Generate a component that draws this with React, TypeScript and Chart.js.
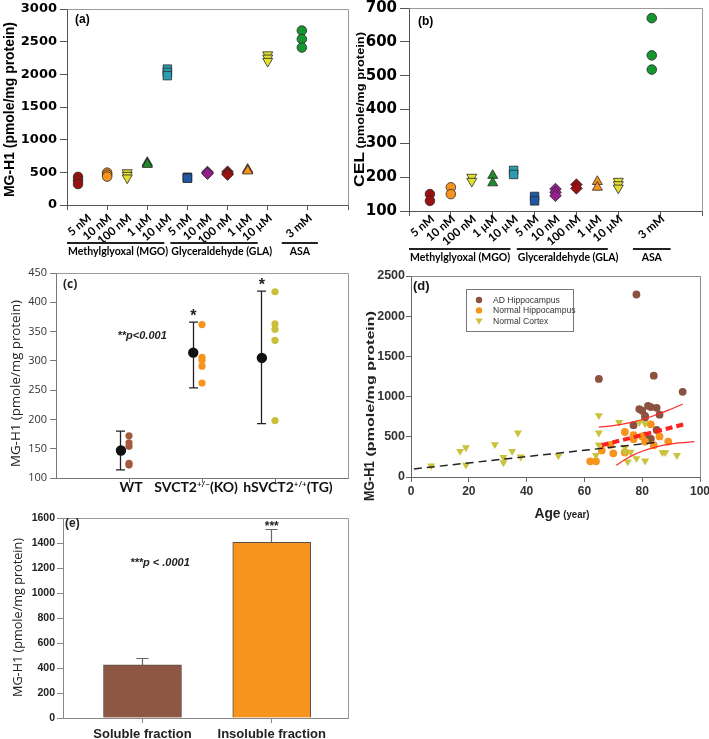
import React, { useEffect, useRef } from 'react';
import { Chart, registerables } from 'chart.js';

Chart.register(...registerables);

const PAGE_W = 709;
const PAGE_H = 739;

// ---------------- data: panels (a) and (b) ----------------
const treatmentLabels = ['5 nM', '10 nM', '100 nM', '1 µM', '10 µM', '5 nM', '10 nM', '100 nM', '1 µM', '10 µM', '3 mM'];
const treatmentLabelX = [1, 2, 3, 4, 5, 6, 7, 8, 9, 10, 12];
const groupNames = ['Methylglyoxal (MGO)', 'Glyceraldehyde (GLA)', 'ASA'];
const groupStart = [0, 5.15, 10.7];
const groupEnd = [4.85, 9.5, 12.5];

const mgh1X = [0.55, 2, 3, 4, 5, 6, 7, 8, 9, 10, 11.7];
const mgh1Values = [
  [430, 375, 320],
  [495, 465, 435],
  [495, 455, 415],
  [650, 635, 620],
  [2080, 2030, 1980],
  [425, 415, 410],
  [505, 490, 480],
  [510, 485, 465],
  [545, 530, 520],
  [2300, 2250, 2200],
  [2670, 2540, 2410],
];
const celX = [1, 2, 3, 4, 5, 6, 7, 8, 9, 10, 11.6];
const celValues = [
  [150, 130],
  [170, 150],
  [200, 188],
  [205, 183],
  [220, 208],
  [143, 130],
  [165, 155, 145],
  [178, 167],
  [187, 170],
  [188, 178, 168],
  [670, 560, 518],
];

// ---------------- data: panel (c) ----------------
const mouseGroups = ['WT', 'SVCT2^{+/−}(KO)', 'hSVCT2^{+/+}(TG)'];
const wtValues = [172, 160, 154, 125, 122];
const koValues = [362, 306, 301, 291, 262];
const tgValues = [418, 363, 354, 335, 198];
const mouseMeanX = [0.89, 1.88, 2.82];
const mouseMeans = [147, 314, 305];
const mouseErrLow = [114, 254, 193];
const mouseErrHigh = [180, 366, 419];
const mouseSignificant = [false, true, true];
const mouseNote = '**p<0.001';
const mouseNoteAt = [1.18, 345];

// ---------------- data: panel (d) ----------------
const seriesNames = ['AD Hippocampus', 'Normal Hippocampus', 'Normal Cortex'];
const adHippocampus = [
  [65, 1220], [78, 2270], [84, 1260], [94, 1060], [79, 845], [80, 825], [82, 885], [83, 870],
  [85, 860], [81, 760], [81, 740], [86, 775], [77, 645], [85, 585], [81, 515], [83, 475],
];
const normalHippocampus = [
  [62, 195], [64, 195], [66, 330], [69, 400], [70, 295], [74, 560], [74, 305], [77, 520],
  [77, 470], [80, 505], [81, 440], [83, 655], [84, 395], [86, 505], [89, 440],
];
const normalCortex = [
  [7, 140], [17, 320], [19, 365], [19, 150], [29, 405], [32, 245], [32, 180], [35, 320],
  [37, 550], [38, 250], [51, 265], [64, 270], [65, 765], [65, 550], [65, 400], [72, 680],
  [74, 370], [74, 315], [75, 190], [76, 310], [78, 230], [79, 680], [81, 665], [81, 200],
  [87, 305], [88, 305], [92, 270],
];
const cortexFit = [[1, 100], [86, 435]];
const hippoFit = [[66, 395], [95, 660]];
const hippoUpper = [[65, 620], [70, 640], [75, 670], [80, 715], [85, 775], [90, 845], [94, 905]];
const hippoLower = [[71, 145], [74, 215], [77, 275], [80, 320], [84, 365], [88, 400], [93, 425], [98, 440]];

// ---------------- data: panel (e) ----------------
const fractions = ['Soluble fraction', 'Insoluble fraction'];
const fractionMeans = [425, 1405];
const fractionErr = [55, 105];
const fractionNote = '***p < .0001';
const fractionNoteAt = [1.135, 1250];

// ---------------- styles ----------------
const ARIAL = '"Liberation Sans", Arial, sans-serif';
const DEJAVU = '"DejaVu Sans", sans-serif';
const OPEN = '"Open Sans", sans-serif';
const LATO = 'Lato, sans-serif';

const markerShape = ['circle', 'circle', 'triangle', 'triangle', 'rect', 'rect', 'rectRot', 'rectRot', 'triangle', 'triangle', 'circle'];
const markerRotation = [0, 0, 180, 0, 0, 0, 0, 0, 0, 180, 0];
const markerRadius = [4.8, 4.8, 5.8, 5.8, 6, 6, 5.8, 5.8, 5.8, 5.8, 4.8];
const markerColor = ['#9B1010', '#F7931E', '#E3DF2E', '#1E8C2A', '#2C9DB0', '#1D5AA6', '#94208E', '#9B1010', '#F7931E', '#E3DF2E', '#16962E'];

const RECT_A = { l: 67, t: 9, r: 348, b: 205 };
const RECT_B = { l: 409, t: 8, r: 702, b: 211 };
const RECT_C = { l: 56, t: 273, r: 348, b: 478 };
const RECT_D = { l: 411, t: 276, r: 700, b: 477 };
const RECT_E = { l: 63, t: 518, r: 348, b: 718 };

// ---------------- helpers ----------------
type Seg = { t: string; font: string; dy?: number; w?: number };

function drawSegs(ctx: CanvasRenderingContext2D, segs: Seg[], x: number, y: number, o: any = {}) {
  ctx.save();
  ctx.translate(x, y);
  if (o.rot) ctx.rotate(o.rot);
  const natural = segs.map((s) => { ctx.font = s.font; return ctx.measureText(s.t).width; });
  const widths = segs.map((s, i) => s.w || natural[i]);
  const total = widths.reduce((a, b) => a + b, 0);
  const sx = o.len ? o.len / total : 1;
  ctx.scale(sx, 1);
  let cx = o.align === 'left' ? 0 : o.align === 'right' ? -total : -total / 2;
  ctx.fillStyle = o.color || '#000';
  ctx.textBaseline = 'alphabetic';
  ctx.textAlign = 'left';
  segs.forEach((s, i) => {
    ctx.font = s.font;
    ctx.save();
    ctx.translate(cx, s.dy || 0);
    ctx.scale(widths[i] / natural[i], 1);
    ctx.fillText(s.t, 0, 0);
    ctx.restore();
    cx += widths[i];
  });
  ctx.restore();
}

function richSegs(label: string, font: string, supFont: string, supDy: number): Seg[] {
  const out: Seg[] = [];
  const re = /\^\{([^}]*)\}/g;
  let last = 0;
  let m: RegExpExecArray | null;
  while ((m = re.exec(label))) {
    if (m.index > last) out.push({ t: label.slice(last, m.index), font });
    out.push({ t: m[1], font: supFont, dy: supDy });
    last = re.lastIndex;
  }
  if (last < label.length) out.push({ t: label.slice(last), font });
  return out;
}

const al = (v: number) => Math.round(v - 0.5) + 0.5;

function drawFrame(ctx: CanvasRenderingContext2D, ca: any, color: string) {
  ctx.save();
  ctx.strokeStyle = color;
  ctx.lineWidth = 1;
  ctx.beginPath();
  ctx.moveTo(al(ca.left), al(ca.top));
  ctx.lineTo(al(ca.right), al(ca.top));
  ctx.lineTo(al(ca.right), al(ca.bottom));
  ctx.stroke();
  ctx.restore();
}

const zeroPad = (s: any) => { s.paddingLeft = 0; s.paddingRight = 0; s.paddingTop = 0; s.paddingBottom = 0; };
const plainNumber = (v: any) => String(v);

function yScale(min: number, max: number, step: number, font: any, color: string, tickLen: number, pad: number, width: number, axisColor: string) {
  return {
    type: 'linear', min, max,
    ticks: { stepSize: step, font, color, padding: pad, callback: plainNumber },
    grid: { drawOnChartArea: false, drawTicks: true, tickLength: tickLen, color: axisColor, tickColor: axisColor },
    border: { display: true, color: axisColor, width: 1 },
    afterFit: (s: any) => { s.width = width; zeroPad(s); },
  };
}

function xScale(min: number, max: number, step: number, height: number, axisColor: string, tickLen: number, extra: any = {}) {
  return {
    type: 'linear', min, max, offset: false,
    ticks: Object.assign({ stepSize: step, display: false, callback: plainNumber }, extra.ticks || {}),
    grid: { drawOnChartArea: false, drawTicks: true, tickLength: tickLen, color: axisColor, tickColor: axisColor, offset: false },
    border: { display: true, color: axisColor, width: 1 },
    afterBuildTicks: extra.tickValues ? (s: any) => { s.ticks = extra.tickValues.map((v: number) => ({ value: v })); } : undefined,
    afterFit: (s: any) => { s.height = height; zeroPad(s); },
  };
}

function baseOptions(rect: any, yW: number, xH: number, scales: any) {
  return {
    responsive: false,
    maintainAspectRatio: false,
    animation: false,
    devicePixelRatio: 1,
    events: [],
    layout: { padding: { left: rect.l - yW, top: rect.t, right: PAGE_W - rect.r, bottom: PAGE_H - rect.b - xH } },
    plugins: { legend: { display: false }, tooltip: { enabled: false } },
    scales,
  };
}

// ---------------- panels (a) / (b) ----------------
function makeTreatment(canvas: HTMLCanvasElement, p: any) {
  const datasets = p.values.map((vals: number[], i: number) => ({
    data: vals.map((v) => ({ x: p.xs[i], y: v })),
    pointStyle: markerShape[i],
    pointRotation: markerRotation[i],
    pointRadius: markerRadius[i],
    pointBackgroundColor: markerColor[i],
    backgroundColor: markerColor[i],
    pointBorderColor: '#2a2a2a',
    borderColor: '#2a2a2a',
    pointBorderWidth: 0.8,
  }));
  const plugin = {
    id: 'treat' + p.letter,
    beforeDatasetsDraw(chart: any) { drawFrame(chart.ctx, chart.chartArea, '#9a9a9a'); },
    afterDraw(chart: any) {
      const ctx = chart.ctx as CanvasRenderingContext2D;
      const ca = chart.chartArea;
      const x = chart.scales.x;
      ctx.save();
      ctx.fillStyle = '#000';
      treatmentLabels.forEach((lab, i) => {
        const px = x.getPixelForValue(treatmentLabelX[i]);
        ctx.save();
        ctx.translate(px - 1, ca.bottom + p.labelDy);
        ctx.rotate(-40 * Math.PI / 180);
        ctx.font = `bold 11.5px ${LATO}`;
        ctx.textAlign = 'right';
        ctx.textBaseline = 'top';
        ctx.fillText(lab, 0, 0);
        ctx.restore();
      });
      groupNames.forEach((g, i) => {
        const x0 = x.getPixelForValue(groupStart[i]);
        const x1 = x.getPixelForValue(groupEnd[i]);
        ctx.fillStyle = '#222';
        ctx.fillRect(x0, ca.bottom + 37, x1 - x0, 2);
        ctx.fillStyle = '#000';
        ctx.font = `bold 10.5px ${LATO}`;
        ctx.textBaseline = 'alphabetic';
        if (i < 2) { ctx.textAlign = 'left'; ctx.fillText(g, x0 + 1, ca.bottom + 50); }
        else { ctx.textAlign = 'center'; ctx.fillText(g, (x0 + x1) / 2, ca.bottom + 50); }
      });
      ctx.font = `bold 12px ${ARIAL}`;
      ctx.textAlign = 'left';
      ctx.textBaseline = 'middle';
      ctx.fillText(p.letter, ca.left + p.letterDx, ca.top + p.letterDy);
      drawSegs(ctx, p.title, p.titleX, p.titleY, { rot: -Math.PI / 2, len: p.titleLen });
      ctx.restore();
    },
  };
  return new Chart(canvas, {
    type: 'scatter',
    data: { datasets },
    options: baseOptions(p.rect, p.yW, 30, {
      x: xScale(0, 14, 2, 30, '#555', 5),
      y: yScale(p.yMin, p.yMax, p.yStep, { family: DEJAVU, size: p.tickSize, weight: 'bold' }, '#000', p.tickLen, 3, p.yW, '#555'),
    }) as any,
    plugins: [plugin],
  } as any);
}

function makeA(canvas: HTMLCanvasElement) {
  return makeTreatment(canvas, {
    rect: RECT_A, values: mgh1Values, xs: mgh1X, yMin: 0, yMax: 3000, yStep: 500, tickSize: 13, tickLen: 7, yW: 62,
    letter: '(a)', letterDx: 8, letterDy: 11, labelDy: 7,
    title: [{ t: 'MG-H1 (pmole/mg protein)', font: `bold 14px ${ARIAL}` }], titleX: 14, titleY: 109.5, titleLen: 175,
  });
}

function makeB(canvas: HTMLCanvasElement) {
  return makeTreatment(canvas, {
    rect: RECT_B, values: celValues, xs: celX, yMin: 100, yMax: 700, yStep: 100, tickSize: 15, tickLen: 9, yW: 55,
    letter: '(b)', letterDx: 9, letterDy: 14, labelDy: 2,
    title: [{ t: 'CEL', font: `bold 15px ${ARIAL}` }, { t: ' (pmole/mg protein)', font: `bold 11px ${ARIAL}` }],
    titleX: 364, titleY: 109.5, titleLen: 155,
  });
}

// ---------------- panel (c) ----------------
function makeC(canvas: HTMLCanvasElement) {
  const groups = [wtValues, koValues, tgValues];
  const colors = ['#A35A3C', '#F7941D', '#C9BF3C'];
  const datasets: any[] = groups.map((vals, i) => ({
    data: vals.map((v) => ({ x: i + 1, y: v })),
    pointRadius: 3.6,
    pointBackgroundColor: colors[i],
    pointBorderWidth: 0,
    backgroundColor: colors[i],
    borderColor: colors[i],
  }));
  datasets.push({
    data: mouseMeans.map((m, i) => ({ x: mouseMeanX[i], y: m })),
    pointRadius: 5.2,
    pointBackgroundColor: '#111',
    pointBorderWidth: 0,
    backgroundColor: '#111',
    borderColor: '#111',
  });
  const labelShift = [2, -6, 13];
  const plugin = {
    id: 'panelC',
    beforeDatasetsDraw(chart: any) {
      const ctx = chart.ctx as CanvasRenderingContext2D;
      const { x, y } = chart.scales;
      drawFrame(ctx, chart.chartArea, '#999');
      ctx.save();
      ctx.strokeStyle = '#222';
      ctx.lineWidth = 1.3;
      mouseMeans.forEach((m, i) => {
        const px = al(x.getPixelForValue(mouseMeanX[i]));
        const lo = y.getPixelForValue(mouseErrLow[i]);
        const hi = y.getPixelForValue(mouseErrHigh[i]);
        ctx.beginPath();
        ctx.moveTo(px, lo); ctx.lineTo(px, hi);
        ctx.moveTo(px - 4.5, lo); ctx.lineTo(px + 4.5, lo);
        ctx.moveTo(px - 4.5, hi); ctx.lineTo(px + 4.5, hi);
        ctx.stroke();
      });
      ctx.restore();
    },
    afterDraw(chart: any) {
      const ctx = chart.ctx as CanvasRenderingContext2D;
      const ca = chart.chartArea;
      const { x, y } = chart.scales;
      ctx.save();
      ctx.fillStyle = '#222';
      ctx.textAlign = 'center';
      ctx.textBaseline = 'alphabetic';
      ctx.font = `bold 16px ${ARIAL}`;
      mouseSignificant.forEach((s, i) => {
        if (!s) return;
        ctx.fillText('*', x.getPixelForValue(mouseMeanX[i]), y.getPixelForValue(mouseErrHigh[i]) - 1);
      });
      ctx.font = `italic bold 11px ${ARIAL}`;
      ctx.fillText(mouseNote, x.getPixelForValue(mouseNoteAt[0]), y.getPixelForValue(mouseNoteAt[1]) + 4);
      ctx.font = `bold 12px ${OPEN}`;
      ctx.textAlign = 'left';
      ctx.textBaseline = 'middle';
      ctx.fillText('(c)', ca.left + 7, ca.top + 12);
      mouseGroups.forEach((lab, i) => {
        drawSegs(ctx, richSegs(lab, `bold 14px ${LATO}`, `bold 8px ${LATO}`, -5),
          x.getPixelForValue(i + 1) + labelShift[i], ca.bottom + 14, { align: 'center', color: '#111' });
      });
      drawSegs(ctx, [{ t: 'MG-H1 (pmole/mg protein)', font: `13px ${OPEN}` }], 20, 383.5,
        { rot: -Math.PI / 2, len: 167, color: '#222' });
      ctx.restore();
    },
  };
  return new Chart(canvas, {
    type: 'scatter',
    data: { datasets },
    options: baseOptions(RECT_C, 50, 30, {
      x: xScale(0, 4, 1, 30, '#777', 5, { tickValues: [1, 2, 3] }),
      y: yScale(100, 450, 50, { family: OPEN, size: 11 }, '#333', 6, 3, 50, '#777'),
    }) as any,
    plugins: [plugin],
  } as any);
}

// ---------------- panel (d) ----------------
function makeD(canvas: HTMLCanvasElement) {
  const colors = ['#8C5240', '#F7941D', '#C9C23A'];
  const toXY = (arr: number[][]) => arr.map((p) => ({ x: p[0], y: p[1] }));
  const lineDs = (arr: number[][], color: string, width: number, dash: number[], tension: number) => ({
    data: toXY(arr), showLine: true, pointRadius: 0, borderColor: color, borderWidth: width,
    borderDash: dash, tension, fill: false, order: 0,
  });
  const datasets: any[] = [
    lineDs(cortexFit, '#222', 1.5, [8, 5], 0),
    lineDs(hippoFit, '#FF2020', 4, [7, 4], 0),
    lineDs(hippoUpper, '#FF2A2A', 1.2, [], 0.4),
    lineDs(hippoLower, '#FF2A2A', 1.2, [], 0.4),
    { data: toXY(adHippocampus), pointRadius: 3.9, pointBackgroundColor: colors[0], backgroundColor: colors[0], borderColor: colors[0], pointBorderWidth: 0, order: 3 },
    { data: toXY(normalHippocampus), pointRadius: 3.9, pointBackgroundColor: colors[1], backgroundColor: colors[1], borderColor: colors[1], pointBorderWidth: 0, order: 2 },
    { data: toXY(normalCortex), pointStyle: 'triangle', pointRotation: 180, pointRadius: 4.6, pointBackgroundColor: colors[2], backgroundColor: colors[2], borderColor: colors[2], pointBorderWidth: 0, order: 1 },
  ];
  const plugin = {
    id: 'panelD',
    beforeDatasetsDraw(chart: any) { drawFrame(chart.ctx, chart.chartArea, '#8a8a8a'); },
    afterDraw(chart: any) {
      const ctx = chart.ctx as CanvasRenderingContext2D;
      const ca = chart.chartArea;
      ctx.save();
      // legend
      const lx = ca.left + 55, ly = ca.top + 13, lw = 107, lh = 42;
      ctx.fillStyle = '#fff';
      ctx.fillRect(lx, ly, lw, lh);
      ctx.strokeStyle = '#777';
      ctx.lineWidth = 1;
      ctx.strokeRect(al(lx), al(ly), lw, lh);
      seriesNames.forEach((name, i) => {
        const ry = ly + 11 + i * 10.4;
        const mx = lx + 13;
        ctx.fillStyle = colors[i];
        ctx.beginPath();
        if (i < 2) ctx.arc(mx, ry, 3.2, 0, Math.PI * 2);
        else { ctx.moveTo(mx - 3.6, ry - 2.2); ctx.lineTo(mx + 3.6, ry - 2.2); ctx.lineTo(mx, ry + 3.6); ctx.closePath(); }
        ctx.fill();
        ctx.fillStyle = '#333';
        ctx.font = `8.6px ${ARIAL}`;
        ctx.textAlign = 'left';
        ctx.textBaseline = 'middle';
        ctx.fillText(name, lx + 27, ry + 0.5);
      });
      ctx.fillStyle = '#111';
      ctx.font = `bold 13px ${ARIAL}`;
      ctx.textAlign = 'left';
      ctx.textBaseline = 'middle';
      ctx.fillText('(d)', ca.left + 2, ca.top + 10);
      drawSegs(ctx, [
        { t: 'MG-H1', font: `bold 14px ${ARIAL}`, w: 40 },
        { t: ' (pmole/mg protein)', font: `bold 11px ${ARIAL}`, w: 150 },
      ], 374, 406, { rot: -Math.PI / 2, color: '#222' });
      drawSegs(ctx, [{ t: 'Age', font: `bold 15px ${ARIAL}` }, { t: ' (year)', font: `bold 10.5px ${ARIAL}` }],
        562, 518, { len: 55, color: '#222' });
      ctx.restore();
    },
  };
  return new Chart(canvas, {
    type: 'scatter',
    data: { datasets },
    options: baseOptions(RECT_D, 50, 30, {
      x: xScale(0, 100, 20, 30, '#666', 5, { ticks: { display: true, font: { family: ARIAL, size: 12, weight: 'bold' }, color: '#333', padding: 2 } }),
      y: yScale(0, 2500, 500, { family: ARIAL, size: 12.5, weight: 'bold' }, '#333', 5, 1, 50, '#666'),
    }) as any,
    plugins: [plugin],
  } as any);
}

// ---------------- panel (e) ----------------
function makeE(canvas: HTMLCanvasElement) {
  const plugin = {
    id: 'panelE',
    beforeDatasetsDraw(chart: any) { drawFrame(chart.ctx, chart.chartArea, '#999'); },
    afterDatasetsDraw(chart: any) {
      const ctx = chart.ctx as CanvasRenderingContext2D;
      const { x, y } = chart.scales;
      ctx.save();
      ctx.strokeStyle = '#666';
      ctx.lineWidth = 1.2;
      fractionMeans.forEach((m, i) => {
        const px = al(x.getPixelForValue(i + 1));
        const top = y.getPixelForValue(m);
        const cap = y.getPixelForValue(m + fractionErr[i]);
        ctx.beginPath();
        ctx.moveTo(px, top); ctx.lineTo(px, cap);
        ctx.moveTo(px - 6, al(cap)); ctx.lineTo(px + 6, al(cap));
        ctx.stroke();
      });
      ctx.restore();
    },
    afterDraw(chart: any) {
      const ctx = chart.ctx as CanvasRenderingContext2D;
      const ca = chart.chartArea;
      const { x, y } = chart.scales;
      ctx.save();
      ctx.fillStyle = '#222';
      ctx.textAlign = 'center';
      ctx.textBaseline = 'alphabetic';
      ctx.font = `bold 12px ${ARIAL}`;
      ctx.fillText('***', x.getPixelForValue(2), y.getPixelForValue(fractionMeans[1] + fractionErr[1]) + 1);
      ctx.font = `italic bold 11px ${ARIAL}`;
      ctx.fillText(fractionNote, x.getPixelForValue(fractionNoteAt[0]), y.getPixelForValue(fractionNoteAt[1]) + 4);
      ctx.font = `bold 12px ${ARIAL}`;
      ctx.textAlign = 'left';
      ctx.textBaseline = 'middle';
      ctx.fillText('(e)', ca.left + 2, ca.top + 6);
      drawSegs(ctx, [{ t: 'MG-H1 (pmole/mg protein)', font: `13px ${OPEN}` }], 22, 617.5,
        { rot: -Math.PI / 2, len: 159, color: '#222' });
      ctx.restore();
    },
  };
  return new Chart(canvas, {
    type: 'bar',
    data: {
      datasets: [{
        data: fractionMeans.map((v, i) => ({ x: i + 1, y: v })),
        backgroundColor: ['#8E5744', '#F7941D'],
        borderColor: '#5b5048',
        borderWidth: 1,
        barThickness: 78,
      }],
    },
    options: baseOptions(RECT_E, 50, 20, {
      x: xScale(0.385, 2.59, 1, 20, '#888', 5, {
        tickValues: [1, 2],
        ticks: { display: true, font: { family: ARIAL, size: 13, weight: 'bold' }, color: '#222', padding: 4, callback: (v: number) => fractions[v - 1] || '' },
      }),
      y: yScale(0, 1600, 200, { family: ARIAL, size: 10.5, weight: 'bold' }, '#222', 6, 2, 50, '#888'),
    }) as any,
    plugins: [plugin],
  } as any);
}

// ---------------- components ----------------
function ChartCanvas({ make }: { make: (c: HTMLCanvasElement) => Chart }) {
  const ref = useRef<HTMLCanvasElement>(null);
  useEffect(() => {
    const chart = make(ref.current as HTMLCanvasElement);
    return () => chart.destroy();
  }, []);
  return (
    <canvas
      ref={ref}
      width={PAGE_W}
      height={PAGE_H}
      style={{ position: 'absolute', left: 0, top: 0, width: PAGE_W, height: PAGE_H, pointerEvents: 'none' }}
    />
  );
}

export default function App() {
  return (
    <div style={{ position: 'fixed', left: 0, top: 0, width: PAGE_W, height: PAGE_H, background: '#fff', overflow: 'hidden' }}>
      <ChartCanvas make={makeA} />
      <ChartCanvas make={makeB} />
      <ChartCanvas make={makeC} />
      <ChartCanvas make={makeD} />
      <ChartCanvas make={makeE} />
    </div>
  );
}
